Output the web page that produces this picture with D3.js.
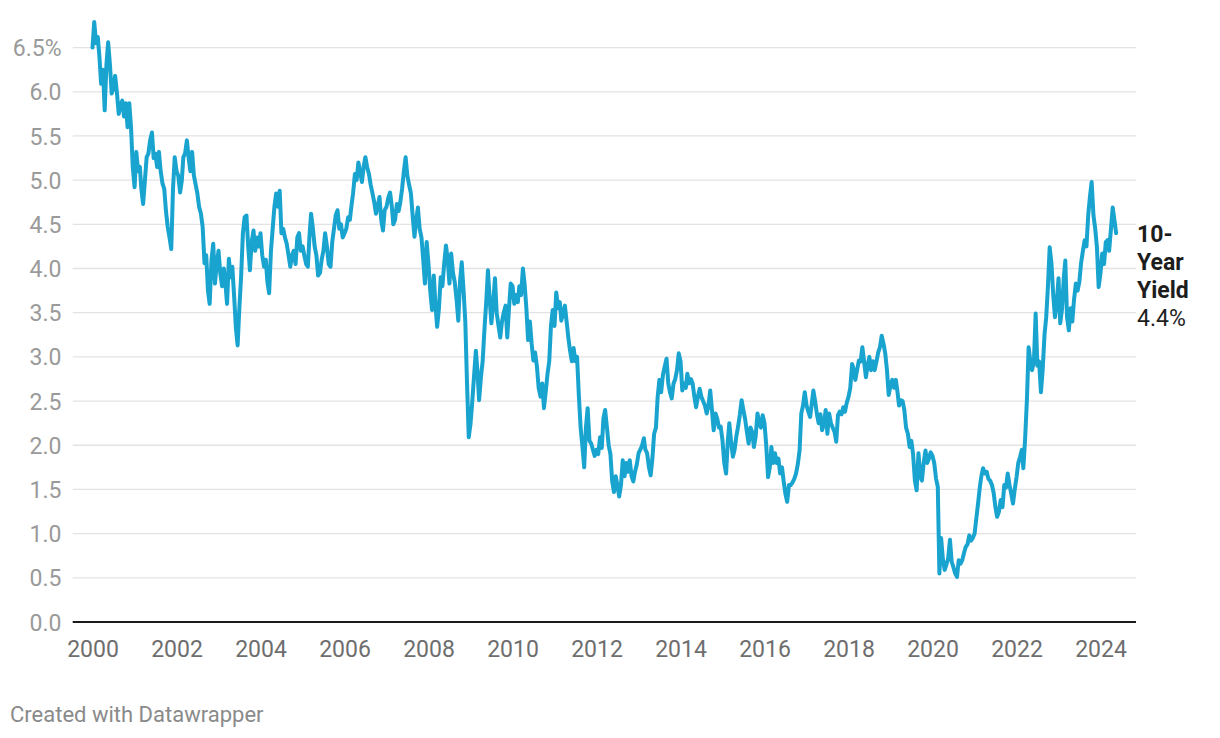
<!DOCTYPE html>
<html>
<head>
<meta charset="utf-8">
<script src="https://cdn.jsdelivr.net/npm/d3@7/dist/d3.min.js"></script>
<style>
  html, body { margin: 0; padding: 0; background: #fff; }
  svg { display: block; font-family: Roboto, "Noto Sans", sans-serif; }
</style>
</head>
<body>
<svg id="chart" width="1220" height="738"></svg>
<script>
// ---- data: 10-year yield, semi-monthly readings (1st and 16th of each month) ----
const startYear = 2000;
const yields = [
  // 2000
  6.50,6.79,6.55,6.62,6.40,6.09,6.25,5.79,6.30,6.56,6.30,5.98,6.05,6.18,5.98,5.75,5.85,5.90,5.72,5.87,5.60,5.87,5.60,5.15,
  // 2001
  4.92,5.32,5.10,5.15,4.90,4.73,5.00,5.26,5.30,5.45,5.54,5.25,5.30,5.15,5.32,5.10,4.96,4.90,4.65,4.47,4.35,4.22,4.90,5.26,
  // 2002
  5.10,5.05,4.86,5.00,5.26,5.30,5.45,5.25,5.10,5.32,5.05,4.95,4.85,4.70,4.62,4.47,4.06,4.15,3.75,3.60,4.10,4.28,3.83,4.05,
  // 2003
  4.20,3.95,3.80,4.00,3.85,3.60,4.11,3.90,4.02,3.70,3.33,3.13,3.55,3.90,4.40,4.58,4.60,4.25,3.98,4.30,4.43,4.20,4.35,4.25,
  // 2004
  4.40,4.15,4.02,4.10,3.85,3.72,4.20,4.45,4.70,4.85,4.70,4.88,4.40,4.45,4.35,4.28,4.15,4.02,4.15,4.20,4.05,4.35,4.40,4.20,
  // 2005
  4.25,4.15,4.05,4.02,4.35,4.62,4.45,4.25,4.15,3.92,3.95,4.10,4.20,4.40,4.25,4.05,4.02,4.30,4.45,4.60,4.66,4.45,4.50,4.35,
  // 2006
  4.40,4.45,4.58,4.55,4.70,4.85,5.07,5.00,5.20,5.10,4.98,5.15,5.26,5.15,5.07,4.95,4.85,4.75,4.62,4.70,4.81,4.55,4.43,4.66,
  // 2007
  4.70,4.80,4.86,4.70,4.50,4.55,4.73,4.65,4.75,4.90,5.10,5.26,5.05,4.95,4.85,4.60,4.36,4.55,4.69,4.45,4.35,4.10,3.83,4.30,
  // 2008
  4.05,3.75,3.53,3.92,3.60,3.34,3.55,3.90,3.80,4.05,4.26,4.10,3.83,4.17,3.95,3.85,3.65,3.41,3.85,4.07,3.75,3.40,2.70,2.09,
  // 2009
  2.25,2.50,2.80,3.07,2.85,2.51,2.77,2.95,3.30,3.60,3.98,3.65,3.38,3.60,3.89,3.50,3.35,3.22,3.40,3.50,3.58,3.22,3.55,3.83,
  // 2010
  3.80,3.60,3.70,3.62,3.80,3.70,4.00,3.82,3.55,3.19,3.40,3.15,2.96,3.05,2.89,2.65,2.55,2.70,2.42,2.60,2.81,2.95,3.35,3.53,
  // 2011
  3.35,3.73,3.55,3.62,3.41,3.50,3.58,3.40,3.22,3.07,2.95,3.10,2.95,3.00,2.55,2.20,1.98,1.75,2.20,2.42,2.05,2.02,1.95,1.88,
  // 2012
  1.95,1.90,2.09,1.97,2.30,2.40,2.20,2.00,1.90,1.60,1.47,1.65,1.55,1.42,1.55,1.83,1.65,1.80,1.70,1.83,1.65,1.59,1.70,1.78,
  // 2013
  1.91,1.95,2.00,2.08,1.95,1.91,1.75,1.66,1.85,2.13,2.20,2.55,2.74,2.60,2.80,2.89,2.98,2.70,2.60,2.53,2.70,2.75,2.85,3.04,
  // 2014
  2.95,2.62,2.70,2.65,2.81,2.70,2.75,2.70,2.55,2.43,2.55,2.64,2.55,2.50,2.45,2.36,2.45,2.62,2.40,2.17,2.36,2.30,2.20,2.21,
  // 2015
  2.05,1.80,1.68,2.05,2.25,2.05,1.87,1.95,2.10,2.21,2.35,2.51,2.40,2.30,2.15,2.02,2.20,2.15,1.98,2.10,2.36,2.25,2.20,2.34,
  // 2016
  2.25,2.00,1.64,1.75,1.98,1.80,1.91,1.80,1.85,1.68,1.75,1.59,1.45,1.36,1.55,1.55,1.58,1.62,1.68,1.78,1.94,2.36,2.45,2.60,
  // 2017
  2.45,2.38,2.32,2.48,2.62,2.50,2.35,2.25,2.35,2.17,2.25,2.40,2.13,2.36,2.25,2.20,2.15,2.04,2.34,2.38,2.35,2.43,2.38,2.48,
  // 2018
  2.55,2.65,2.92,2.85,2.74,2.85,2.96,2.95,3.11,2.95,2.77,2.90,3.00,2.85,2.95,2.85,2.95,3.05,3.11,3.24,3.15,3.04,2.85,2.57,
  // 2019
  2.68,2.74,2.65,2.74,2.62,2.45,2.51,2.50,2.40,2.20,2.13,1.98,2.05,1.90,1.60,1.49,1.91,1.65,1.60,1.80,1.94,1.80,1.85,1.92,
  // 2020
  1.88,1.80,1.62,1.53,0.55,0.95,0.70,0.59,0.65,0.72,0.93,0.68,0.62,0.55,0.51,0.70,0.66,0.70,0.78,0.85,0.88,0.98,0.92,0.95,
  // 2021
  1.00,1.17,1.35,1.53,1.65,1.74,1.68,1.70,1.62,1.60,1.55,1.46,1.30,1.19,1.25,1.38,1.30,1.55,1.52,1.68,1.55,1.45,1.34,1.50,
  // 2022
  1.64,1.80,1.87,1.95,1.74,2.06,2.51,3.11,2.95,2.85,2.95,3.49,2.90,2.95,2.60,2.85,3.25,3.45,3.80,4.24,4.05,3.70,3.45,3.60,
  // 2023
  3.89,3.38,3.55,3.90,4.09,3.45,3.30,3.55,3.40,3.65,3.83,3.75,3.85,4.06,4.20,4.32,4.25,4.60,4.81,4.98,4.60,4.45,4.24,3.79,
  // 2024
  3.95,4.17,4.05,4.30,4.32,4.20,4.45,4.69,4.55,4.40
];
const dates = yields.map((_, i) => new Date(Date.UTC(startYear + Math.floor(i / 24), Math.floor((i % 24) / 2), (i % 2) ? 16 : 1)));

const xTickYears = [2000, 2002, 2004, 2006, 2008, 2010, 2012, 2014, 2016, 2018, 2020, 2022, 2024];
const yTicks = [0, 0.5, 1, 1.5, 2, 2.5, 3, 3.5, 4, 4.5, 5, 5.5, 6, 6.5];
const labelLines = ["10-", "Year", "Yield"];
const labelValue = "4.4%";
const footerText = "Created with Datawrapper";

// ---- layout ----
const svg = d3.select("#chart");
svg.append("rect").attr("width", 1220).attr("height", 738).attr("fill", "#fff");

const gridLeft = 72.7, gridRight = 1136;
const x = d3.scaleUtc()
  .domain([new Date(Date.UTC(2000, 0, 1)), new Date(Date.UTC(2024, 0, 1))])
  .range([92.5, 1100.5]);
const y = d3.scaleLinear().domain([0, 6.5]).range([622, 47.6]);

// gridlines
svg.append("g").selectAll("line")
  .data(yTicks.filter(d => d > 0))
  .join("line")
  .attr("x1", gridLeft).attr("x2", gridRight)
  .attr("y1", d => y(d)).attr("y2", d => y(d))
  .attr("stroke", "#e3e3e3").attr("stroke-width", 1.3);

// y axis labels
const yAxis = d3.axisLeft(y).tickValues(yTicks).tickSize(0).tickPadding(0)
  .tickFormat(d => d === 6.5 ? "6.5%" : d3.format(".1f")(d));
const yg = svg.append("g").attr("transform", "translate(61.5,0)").call(yAxis);
yg.select(".domain").remove();
yg.selectAll("text").attr("fill", "#9a9a9a").attr("font-size", 23)
  .attr("font-family", "Roboto, sans-serif").attr("dy", "0.35em");

// x axis labels
const xAxis = d3.axisBottom(x)
  .tickValues(xTickYears.map(yr => new Date(Date.UTC(yr, 0, 1))))
  .tickSize(0).tickPadding(0).tickFormat(d3.utcFormat("%Y"));
const xg = svg.append("g").attr("transform", "translate(0,657)").call(xAxis);
xg.select(".domain").remove();
xg.selectAll("text").attr("fill", "#6e6e6e").attr("font-size", 23)
  .attr("font-family", "Roboto, sans-serif").attr("dy", 0);

// baseline
svg.append("line")
  .attr("x1", gridLeft).attr("x2", gridRight)
  .attr("y1", y(0)).attr("y2", y(0))
  .attr("stroke", "#1a1a1a").attr("stroke-width", 1.8);

// the line
const line = d3.line()
  .x((d, i) => x(dates[i]))
  .y(d => y(d));
svg.append("path")
  .datum(yields)
  .attr("d", line)
  .attr("fill", "none")
  .attr("stroke", "#19a3cf")
  .attr("stroke-width", 4)
  .attr("stroke-linejoin", "round")
  .attr("stroke-linecap", "round");

// end label
const lbl = svg.append("text").attr("x", 1137).attr("y", 242)
  .attr("font-family", "Roboto, sans-serif").attr("font-size", 23).attr("fill", "#1d1d1d");
labelLines.forEach((t, i) => {
  lbl.append("tspan").attr("x", 1137).attr("dy", i === 0 ? 0 : 28)
    .attr("font-weight", 700).text(t);
});
lbl.append("tspan").attr("x", 1137).attr("dy", 28).attr("font-weight", 400).text(labelValue);

// footer
svg.append("text").attr("x", 10).attr("y", 722)
  .attr("font-family", "Roboto, sans-serif").attr("font-size", 22)
  .attr("fill", "#8a8a8a").text(footerText);
</script>
</body>
</html>
